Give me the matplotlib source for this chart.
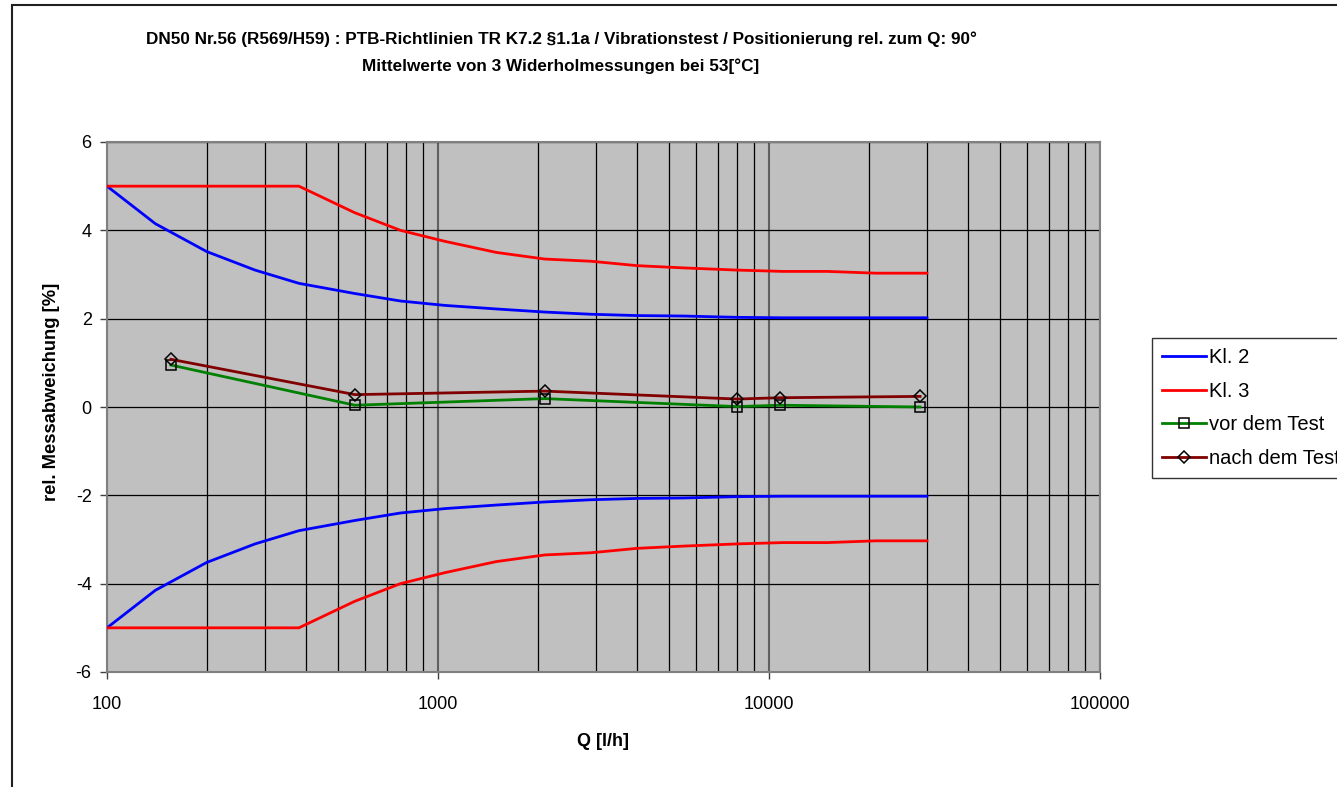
import matplotlib
matplotlib.use("Agg")
import matplotlib.pyplot as plt
from matplotlib.ticker import LogLocator, FixedLocator, NullFormatter, FixedFormatter
import numpy as np

plt.rcParams['font.family'] = ['Liberation Sans', 'DejaVu Sans']

# Error limit curves
q_lim = [100, 140, 200, 280, 380, 560, 770, 1050, 1500, 2100, 2900, 4000, 5500, 8000, 11000, 15000, 21000, 30000]
kl2_upper = [5.0, 4.15, 3.52, 3.1, 2.8, 2.57, 2.4, 2.3, 2.22, 2.15, 2.1, 2.07, 2.06, 2.03, 2.02, 2.02, 2.02, 2.02]
kl3_upper = [5.0, 5.0, 5.0, 5.0, 5.0, 4.4, 4.0, 3.75, 3.5, 3.35, 3.3, 3.2, 3.15, 3.1, 3.07, 3.07, 3.03, 3.03]
kl2_lower = [-v for v in kl2_upper]
kl3_lower = [-v for v in kl3_upper]

# Measurements
q_meas = [156, 561, 2100, 8000, 10800, 28600]
vor_dem_test = [0.95, 0.04, 0.19, 0.01, 0.04, 0.0]
nach_dem_test = [1.08, 0.28, 0.36, 0.18, 0.21, 0.24]

xticks = [100, 1000, 10000, 100000]
xticklabels = ['100', '1000', '10000', '100000']
yticks = [-6, -4, -2, 0, 2, 4, 6]

W, H = 1337, 787
fig = plt.figure(figsize=(W/100, H/100), dpi=100)
ax = fig.add_axes([107/W, 1-672/H, (1100-107)/W, (672-142)/H])
ax.set_facecolor('#C0C0C0')

ax.plot(q_lim, kl2_upper, color='#0000FF', lw=2.0, label='Kl. 2', zorder=3)
ax.plot(q_lim, kl3_upper, color='#FF0000', lw=2.0, label='Kl. 3', zorder=3)
ax.plot(q_lim, kl2_lower, color='#0000FF', lw=2.0, zorder=3)
ax.plot(q_lim, kl3_lower, color='#FF0000', lw=2.0, zorder=3)
ax.plot(q_meas, vor_dem_test, color='#008000', lw=2.0, marker='s', ms=6.5,
        mfc='none', mec='black', mew=1.1, label='vor dem Test', zorder=4)
ax.plot(q_meas, nach_dem_test, color='#800000', lw=2.0, marker='D', ms=6,
        mfc='none', mec='black', mew=1.1, label='nach dem Test', zorder=4)

ax.set_xscale('log')
ax.set_xlim(100, 100000)
ax.set_ylim(-6, 6)
ax.xaxis.set_major_locator(FixedLocator(xticks))
ax.xaxis.set_major_formatter(FixedFormatter(xticklabels))
ax.xaxis.set_minor_locator(LogLocator(base=10, subs=np.arange(2, 10)))
ax.xaxis.set_minor_formatter(NullFormatter())
ax.set_yticks(yticks)
ax.set_yticklabels([str(v) for v in yticks])

ax.grid(True, which='major', axis='x', color='#606060', lw=1.5, zorder=1)
ax.grid(True, which='minor', axis='x', color='black', lw=0.9, zorder=1)
ax.grid(True, which='major', axis='y', color='black', lw=0.9, zorder=1)
ax.set_axisbelow(True)

for s in ax.spines.values():
    s.set_color('#808080')
    s.set_linewidth(1.5)
ax.tick_params(axis='both', which='major', length=5, width=1, color='#404040',
               labelsize=13, direction='out', pad=6)
ax.tick_params(axis='x', which='minor', length=0)
ax.tick_params(axis='x', which='major', pad=12)

ax.set_xlabel('Q [l/h]', fontsize=13, fontweight='bold')
ax.xaxis.set_label_coords((603-107)/(1100-107), -(741-672)/(672-142))
ax.xaxis.label.set_va('center')
ax.set_ylabel('rel. Messabweichung [%]', fontsize=13.2, fontweight='bold')
ax.yaxis.set_label_coords(-(107-52)/(1100-107), (672-392)/(672-142))
ax.yaxis.label.set_va('center')

fig.text(561/W, 1-39/H, 'DN50 Nr.56 (R569/H59) : PTB-Richtlinien TR K7.2 §1.1a / Vibrationstest / Positionierung rel. zum Q: 90°',
         ha='center', va='center', fontsize=12.3, fontweight='bold')
fig.text(561/W, 1-66/H, 'Mittelwerte von 3 Widerholmessungen bei 53[°C]',
         ha='center', va='center', fontsize=12.3, fontweight='bold')

leg = fig.legend(loc='upper left', bbox_to_anchor=(1152/W, 1-338/H),
                 frameon=True, fancybox=False, fontsize=14.5, handlelength=2.2,
                 handletextpad=0.15, borderpad=0.5, labelspacing=0.72, borderaxespad=0)
leg.get_frame().set_edgecolor('black')
leg.get_frame().set_linewidth(1.0)

# figure border (open to the right and bottom as in the reference)
fig.patches.append(plt.Rectangle((12/W, -0.05), 1.1, 1.05 - 5/H, transform=fig.transFigure,
                                 fill=False, edgecolor='#202020', lw=1.5))

fig.savefig('out.png', dpi=100)
